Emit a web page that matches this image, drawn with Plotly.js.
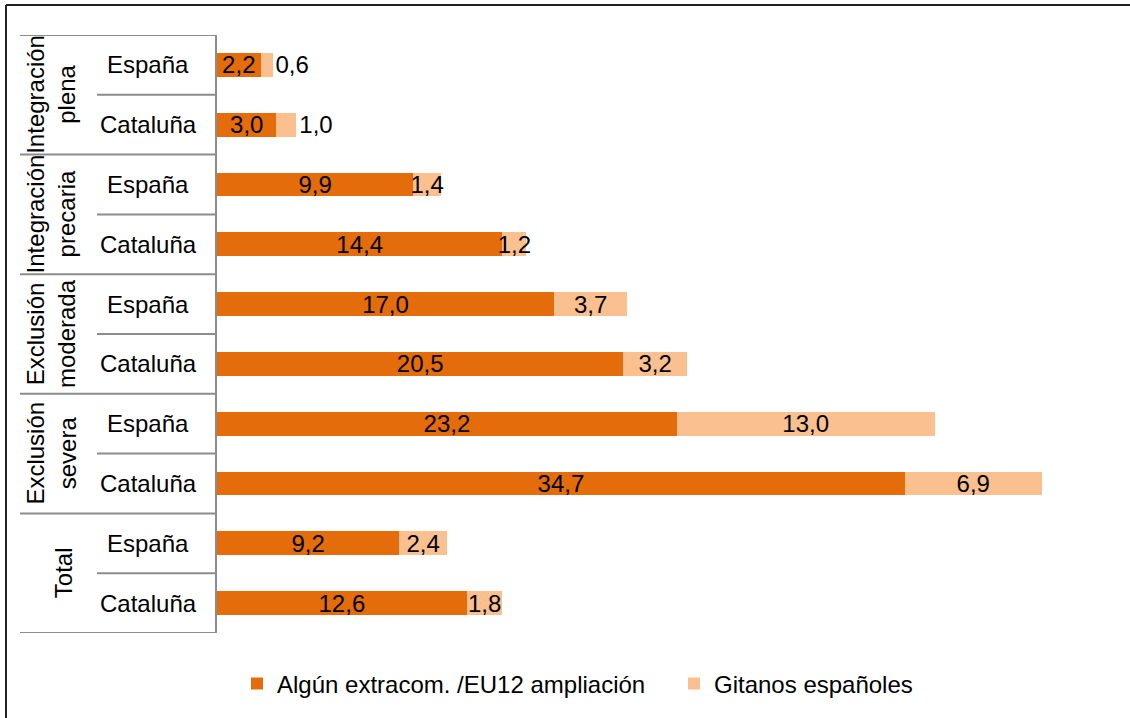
<!DOCTYPE html>
<html>
<head>
<meta charset="utf-8">
<script src="https://cdn.plot.ly/plotly-3.0.1.min.js"></script>
<style>
html,body{margin:0;padding:0;background:#fff;}
#chart{width:1130px;height:718px;}
</style>
</head>
<body>
<div id="chart"></div>
<script>
// ---- data ----
var groups = ['Integración<br>plena', 'Integración<br>precaria', 'Exclusión<br>moderada', 'Exclusión<br>severa', 'Total'];
var regions = ['España', 'Cataluña'];
var seriesNames = ['Algún extracom. /EU12 ampliación', 'Gitanos españoles'];
var extracom = [2.2, 3.0, 9.9, 14.4, 17.0, 20.5, 23.2, 34.7, 9.2, 12.6];
var gitanos  = [0.6, 1.0, 1.4, 1.2, 3.7, 3.2, 13.0, 6.9, 2.4, 1.8];

// ---- layout helpers (pixel geometry) ----
var W = 1130, H = 718;
var L = 217, R = 21, T = 35, B = 83;
var pw = W - L - R, ph = H - T - B;
function px(x){ return (x - L) / pw; }
function py(y){ return (H - B - y) / ph; }

var rows = [];
groups.forEach(function(g, gi){ regions.forEach(function(r, ri){ rows.push(gi * regions.length + ri); }); });

var FONT = 'Liberation Sans, Arial, sans-serif';
var FS = 24;
var gray = '#8c8c8c';

var traces = [
  {
    type: 'bar', orientation: 'h', name: seriesNames[0],
    x: extracom, y: rows, width: 0.4,
    marker: {color: '#E46C0A'},
    texttemplate: '%{x:.1f}', textposition: 'inside', insidetextanchor: 'middle', textangle: 0,
    textfont: {color: '#000', size: FS, family: FONT},
    hoverinfo: 'x'
  },
  {
    type: 'bar', orientation: 'h', name: seriesNames[1],
    x: gitanos, y: rows, width: 0.4,
    marker: {color: '#FAC090'},
    texttemplate: '%{x:.1f}',
    textposition: gitanos.map(function(v, i){ return i < 2 ? 'outside' : 'inside'; }),
    insidetextanchor: 'middle', textangle: 0,
    textfont: {color: '#000', size: FS, family: FONT},
    cliponaxis: false,
    hoverinfo: 'x'
  }
];

var shapes = [];
// outer chart border (left + top)
shapes.push({type:'line', xref:'paper', yref:'paper', x0:px(6), x1:px(W+5), y0:py(5), y1:py(5), line:{color:'#222', width:2}});
shapes.push({type:'line', xref:'paper', yref:'paper', x0:px(6), x1:px(6), y0:py(5), y1:py(H+5), line:{color:'#222', width:2}});
// table lines: group boundaries
for (var g = 0; g <= groups.length; g++) {
  var yb = g * regions.length - 0.5;
  shapes.push({type:'line', xref:'paper', yref:'y', x0:px(20), x1:0, y0:yb, y1:yb, line:{color:gray, width:2}});
}
// sub boundaries
for (var g2 = 0; g2 < groups.length; g2++) {
  var ys = g2 * regions.length + 0.5;
  shapes.push({type:'line', xref:'paper', yref:'y', x0:px(97), x1:0, y0:ys, y1:ys, line:{color:gray, width:2}});
}

var annotations = [];
rows.forEach(function(rw, i){
  annotations.push({xref:'paper', yref:'y', x:px(148), y:rw, text:regions[i % regions.length],
    showarrow:false, xanchor:'center', yanchor:'middle', font:{size:FS, family:FONT, color:'#000'}});
});
groups.forEach(function(gname, gi){
  var twoLine = gname.indexOf('<br>') >= 0;
  annotations.push({xref:'paper', yref:'y', x:px(twoLine ? 51 : 63), y:gi * regions.length + 0.5, text:gname,
    textangle:-90, showarrow:false, xanchor:'center', yanchor:'middle',
    font:{size:FS, family:FONT, color:'#000'}});
});

var layout = {
  width: W, height: H,
  margin: {l: L, r: R, t: T, b: B, pad: 0},
  paper_bgcolor: '#fff', plot_bgcolor: '#fff',
  barmode: 'stack',
  separators: ',.',
  font: {family: FONT, size: FS, color: '#000'},
  uniformtext: {mode: 'show', minsize: FS},
  xaxis: {range: [0, 45], showgrid: false, zeroline: false, showticklabels: false, ticks: '', showline: false, fixedrange: true},
  yaxis: {range: [rows.length - 0.5, -0.5], showgrid: false, zeroline: false, showticklabels: false, ticks: '',
          showline: true, linecolor: gray, linewidth: 2, fixedrange: true},
  showlegend: true,
  legend: {orientation: 'h', x: px(237), xanchor: 'left', y: py(686), yanchor: 'middle',
           entrywidth: 392, entrywidthmode: 'pixels', itemclick: false, itemdoubleclick: false,
           font: {size: FS, family: FONT, color: '#000'}, traceorder: 'normal'},
  shapes: shapes,
  annotations: annotations
};

Plotly.newPlot('chart', traces, layout, {displayModeBar: false, staticPlot: true});
</script>
</body>
</html>
